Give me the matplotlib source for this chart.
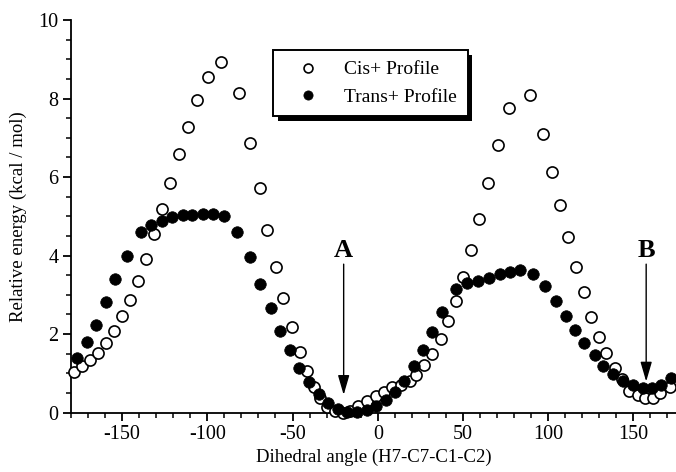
import matplotlib
matplotlib.use("Agg")
import matplotlib.pyplot as plt
import matplotlib.patheffects as pe
from matplotlib.ticker import MultipleLocator

# Cis+ profile (open circles)
cis_angle = [-178.2, -173.5, -168.8, -164.1, -159.3, -154.7, -150.3, -145.6, -140.9, -136.0,
             -131.3, -126.6, -121.9, -116.5, -111.6, -106.1, -99.5, -92.2, -81.7, -75.0,
             -69.2, -64.7, -59.9, -55.5, -50.4, -45.7, -41.8, -37.3, -33.6, -29.5,
             -25.2, -20.5, -16.0, -11.5, -6.6, -1.2, 3.7, 8.4, 13.9, 18.8,
             22.7, 27.4, 32.1, 37.0, 41.3, 46.2, 50.0, 55.0, 59.2, 64.9,
             70.6, 77.0, 89.1, 96.9, 102.4, 107.1, 111.6, 116.5, 121.3, 125.2,
             130.1, 134.0, 139.1, 143.5, 147.7, 152.6, 156.9, 161.4, 165.7, 171.2]
cis_energy = [1.02, 1.19, 1.34, 1.51, 1.76, 2.08, 2.45, 2.86, 3.35, 3.92,
              4.54, 5.18, 5.85, 6.58, 7.28, 7.97, 8.54, 8.94, 8.13, 6.87,
              5.72, 4.66, 3.72, 2.91, 2.17, 1.55, 1.06, 0.66, 0.36, 0.15,
              0.04, 0.00, 0.05, 0.17, 0.30, 0.43, 0.53, 0.64, 0.70, 0.81,
              0.96, 1.21, 1.49, 1.87, 2.33, 2.85, 3.46, 4.13, 4.94, 5.85,
              6.82, 7.76, 8.08, 7.10, 6.13, 5.28, 4.48, 3.72, 3.07, 2.44,
              1.93, 1.51, 1.13, 0.85, 0.56, 0.45, 0.36, 0.36, 0.51, 0.64]

# Trans+ profile (filled circles)
trans_angle = [-176.7, -170.8, -165.4, -159.5, -153.9, -147.4, -139.0, -133.3, -126.8, -121.0,
               -114.5, -108.7, -102.8, -96.5, -90.3, -82.3, -75.0, -68.8, -62.9, -57.1,
               -51.6, -46.1, -40.3, -34.6, -28.9, -23.2, -18.0, -12.1, -6.3, -0.8,
               5.1, 10.0, 15.2, 21.1, 26.5, 32.0, 37.9, 46.1, 52.3, 58.8,
               65.3, 71.5, 77.4, 83.6, 91.0, 97.9, 104.7, 110.6, 116.0, 121.3,
               127.2, 132.4, 137.9, 143.8, 150.0, 155.9, 161.0, 166.2, 172.0]
trans_energy = [1.38, 1.79, 2.24, 2.81, 3.40, 4.00, 4.61, 4.78, 4.89, 4.98,
                5.02, 5.02, 5.06, 5.06, 5.00, 4.61, 3.96, 3.27, 2.66, 2.08,
                1.59, 1.14, 0.79, 0.46, 0.25, 0.10, 0.02, 0.02, 0.06, 0.17,
                0.32, 0.53, 0.80, 1.19, 1.59, 2.05, 2.57, 3.14, 3.30, 3.35,
                3.44, 3.52, 3.59, 3.64, 3.52, 3.23, 2.83, 2.46, 2.10, 1.77,
                1.47, 1.19, 0.98, 0.81, 0.70, 0.62, 0.63, 0.70, 0.87]

# labelled minima: (label, angle, arrow top, arrow tip)
minima = [("A", -20.0, 3.78, 0.45), ("B", 157.5, 3.78, 0.79)]

plt.rcParams["font.family"] = ["Liberation Serif", "DejaVu Serif"]
plt.rcParams["axes.unicode_minus"] = False

fig = plt.figure(figsize=(6.76, 4.72), dpi=100)
ax = fig.add_axes([0.105, 0.126, 0.895, 0.8316])

ax.plot(cis_angle, cis_energy, "o", ms=8, mfc="white", mec="black", mew=1.2,
        clip_on=False, zorder=3, label="Cis+ Profile")
ax.plot(trans_angle, trans_energy, "o", ms=8.3, mfc="black", mec="black", mew=0.5,
        clip_on=False, zorder=4, label="Trans+ Profile")

for lab, xa, ytop, ytip in minima:
    ax.text(xa, ytop + 0.06, lab, ha="center", va="bottom", fontsize=19, fontweight="bold")
    ax.annotate("", xy=(xa, ytip), xytext=(xa, ytop),
                arrowprops=dict(arrowstyle="-|>,head_length=1.2,head_width=0.35",
                                color="black", lw=1.0, shrinkA=0, shrinkB=0))

ax.set_xlim(-180, 175)
ax.set_ylim(0, 10)
ax.xaxis.set_major_locator(MultipleLocator(50))
ax.xaxis.set_minor_locator(MultipleLocator(10))
ax.yaxis.set_major_locator(MultipleLocator(2))
ax.yaxis.set_minor_locator(MultipleLocator(0.5))
ax.spines["top"].set_visible(False)
ax.spines["right"].set_visible(False)
for s in ("left", "bottom"):
    ax.spines[s].set_linewidth(1.3)
ax.tick_params(which="major", direction="out", length=6, width=1.3, labelsize=14.5, pad=3)
ax.tick_params(which="minor", direction="out", length=3.5, width=1.1)

ax.set_xlabel("Dihedral angle (H7-C7-C1-C2)", fontsize=13.5, labelpad=3)
ax.set_ylabel("Relative energy (kcal / mol)", fontsize=13.5, labelpad=8)

leg = ax.legend(loc="upper left", bbox_to_anchor=(0.318, 0.948), fontsize=14,
                frameon=True, fancybox=False, edgecolor="black", framealpha=1,
                markerscale=0.8, handletextpad=0.6, borderpad=0.55, labelspacing=0.5,
                handlelength=2.5)
frame = leg.get_frame()
frame.set_linewidth(1.4)
frame.set_path_effects([pe.SimplePatchShadow(offset=(3.5, -3.5), shadow_rgbFace="black", alpha=1),
                        pe.Normal()])

fig.savefig("out.png", dpi=100)
